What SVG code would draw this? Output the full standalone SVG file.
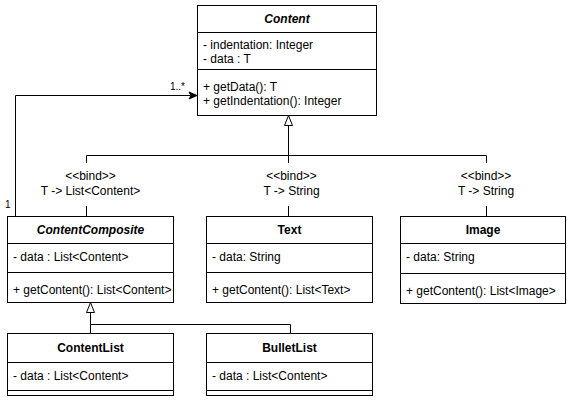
<svg xmlns="http://www.w3.org/2000/svg" width="573" height="401" viewBox="0 0 573 401">
  <style>
    .box { fill: #ffffff; stroke: #000000; stroke-width: 1; }
    .sep { stroke: #000000; stroke-width: 1; fill: none; }
    .edge { stroke: #000000; stroke-width: 1; fill: none; }
    text { font-family: "Liberation Sans", Arial, Helvetica, sans-serif; font-size: 12px; fill: #000000; }
    .title { font-weight: bold; text-anchor: middle; }
    .abstract { font-style: italic; }
    .mid { text-anchor: middle; }
    .small { font-size: 10px; }
  </style>
  <defs>
    <marker id="hollowTriangle" markerUnits="userSpaceOnUse" markerWidth="12" markerHeight="12" viewBox="0 0 12 12" refX="11" refY="6" orient="auto">
      <path d="M1 2 L11 6 L1 10 Z" fill="#ffffff" stroke="#000000" stroke-width="1"/>
    </marker>
    <marker id="openArrow" markerUnits="userSpaceOnUse" markerWidth="10" markerHeight="10" viewBox="0 0 10 10" refX="9" refY="5" orient="auto">
      <path d="M1 1.5 L9 5 L1 8.5 L3 5 Z" fill="#000000" stroke="#000000" stroke-width="1"/>
    </marker>
  </defs>

  <!-- connectors -->
  <g id="connectors">
    <!-- composite to abstract content (association) -->
    <path class="edge" d="M15.5 216 V95.5 H197" marker-end="url(#openArrow)"/>
    <text class="small" x="170" y="90">1..*</text>
    <text class="small" x="5" y="208">1</text>

    <!-- bound generalizations to Content -->
    <path class="edge" d="M86.5 216 V206 M86.5 163 V155.5 H288.5"/>
    <path class="edge" d="M486.5 216 V206 M486.5 163 V155.5 H288.5"/>
    <path class="edge" d="M288.5 216 V206 M288.5 163 V115.5" marker-end="url(#hollowTriangle)"/>

    <text class="mid" x="90.5" y="180">&lt;&lt;bind&gt;&gt;</text>
    <text class="mid" x="90.5" y="195">T -&gt; List&lt;Content&gt;</text>
    <text class="mid" x="291.5" y="180">&lt;&lt;bind&gt;&gt;</text>
    <text class="mid" x="291.5" y="195">T -&gt; String</text>
    <text class="mid" x="486" y="180">&lt;&lt;bind&gt;&gt;</text>
    <text class="mid" x="486" y="195">T -&gt; String</text>

    <!-- list generalizations to ContentComposite -->
    <path class="edge" d="M290.5 333 V324.5 H90.5"/>
    <path class="edge" d="M90.5 333 V302.5" marker-end="url(#hollowTriangle)"/>
  </g>

  <!-- Content (abstract, generic) -->
  <g id="content">
    <rect class="box" x="197.5" y="5.5" width="179" height="110"/>
    <line class="sep" x1="197.5" y1="32.5" x2="376.5" y2="32.5"/>
    <line class="sep" x1="197.5" y1="69.5" x2="376.5" y2="69.5"/>
    <text class="title abstract" x="287" y="23">Content</text>
    <text x="203" y="49">- indentation: Integer</text>
    <text x="203" y="63">- data : T</text>
    <text x="203" y="91">+ getData(): T</text>
    <text x="203" y="105">+ getIndentation(): Integer</text>
  </g>

  <!-- ContentComposite -->
  <g id="content-composite">
    <rect class="box" x="7.5" y="216.5" width="166" height="86"/>
    <line class="sep" x1="7.5" y1="243.5" x2="173.5" y2="243.5"/>
    <line class="sep" x1="7.5" y1="272.5" x2="173.5" y2="272.5"/>
    <text class="title abstract" x="90.5" y="234">ContentComposite</text>
    <text x="13" y="261">- data : List&lt;Content&gt;</text>
    <text x="13" y="294">+ getContent(): List&lt;Content&gt;</text>
  </g>

  <!-- Text -->
  <g id="text">
    <rect class="box" x="206.5" y="216.5" width="166" height="86"/>
    <line class="sep" x1="206.5" y1="243.5" x2="372.5" y2="243.5"/>
    <line class="sep" x1="206.5" y1="272.5" x2="372.5" y2="272.5"/>
    <text class="title" x="289.5" y="234">Text</text>
    <text x="212" y="261">- data: String</text>
    <text x="212" y="294">+ getContent(): List&lt;Text&gt;</text>
  </g>

  <!-- Image -->
  <g id="image">
    <rect class="box" x="400.5" y="216.5" width="165" height="87"/>
    <line class="sep" x1="400.5" y1="243.5" x2="565.5" y2="243.5"/>
    <line class="sep" x1="400.5" y1="273.5" x2="565.5" y2="273.5"/>
    <text class="title" x="483" y="234">Image</text>
    <text x="406" y="261">- data: String</text>
    <text x="406" y="295">+ getContent(): List&lt;Image&gt;</text>
  </g>

  <!-- ContentList -->
  <g id="content-list">
    <rect class="box" x="7.5" y="333.5" width="166" height="62"/>
    <line class="sep" x1="7.5" y1="362.5" x2="173.5" y2="362.5"/>
    <line class="sep" x1="7.5" y1="390.5" x2="173.5" y2="390.5"/>
    <text class="title" x="90.5" y="352">ContentList</text>
    <text x="13" y="380">- data : List&lt;Content&gt;</text>
  </g>

  <!-- BulletList -->
  <g id="bullet-list">
    <rect class="box" x="206.5" y="333.5" width="166" height="62"/>
    <line class="sep" x1="206.5" y1="362.5" x2="372.5" y2="362.5"/>
    <line class="sep" x1="206.5" y1="390.5" x2="372.5" y2="390.5"/>
    <text class="title" x="289.5" y="352">BulletList</text>
    <text x="212" y="380">- data : List&lt;Content&gt;</text>
  </g>
</svg>
